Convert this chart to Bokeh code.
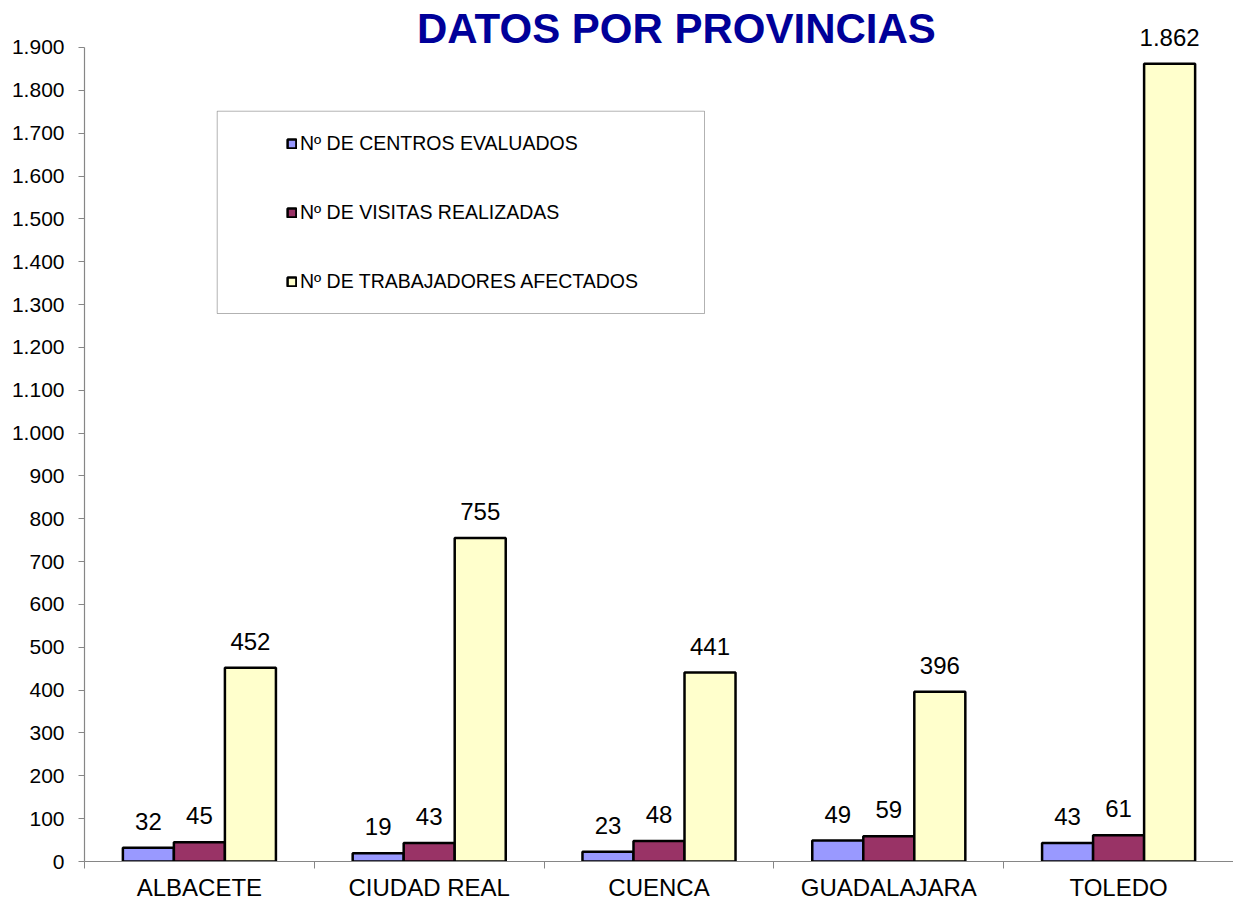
import numpy as np
from bokeh.plotting import figure
from bokeh.core.properties import value
from bokeh.models import (ColumnDataSource, Range1d, FixedTicker, LabelSet, Label,
                          BoxAnnotation, Legend, LegendItem)
from bokeh.embed import file_html
from bokeh.resources import INLINE

# ---- data ----
provincias = ["ALBACETE", "CIUDAD REAL", "CUENCA", "GUADALAJARA", "TOLEDO"]
centros = [32, 19, 23, 49, 43]
visitas = [45, 43, 48, 59, 61]
trabajadores = [452, 755, 441, 396, 1862]
series_names = ["Nº DE CENTROS EVALUADOS", "Nº DE VISITAS REALIZADAS", "Nº DE TRABAJADORES AFECTADOS"]
series_colors = ["#9999FF", "#993366", "#FFFFCC"]
y_ticks = [0, 100, 200, 300, 400, 500, 600, 700, 800, 900, 1000,
           1100, 1200, 1300, 1400, 1500, 1600, 1700, 1800, 1900]
y_tick_labels = ["0", "100", "200", "300", "400", "500", "600", "700", "800", "900", "1.000",
                 "1.100", "1.200", "1.300", "1.400", "1.500", "1.600", "1.700", "1.800", "1.900"]

FONT = "Liberation Sans"
AXIS_GRAY = "#868686"
BAR_W = 0.222

p = figure(width=1233, height=903, x_range=Range1d(0, 5), y_range=Range1d(0, 2009.7),
           output_backend="svg", toolbar_location=None,
           min_border_left=84, min_border_right=0, min_border_top=0, min_border_bottom=42)
p.xgrid.grid_line_color = None
p.ygrid.grid_line_color = None
p.outline_line_color = None
p.background_fill_color = "white"
p.border_fill_color = "white"

centers = np.arange(len(provincias)) + 0.5
series = [centros, visitas, trabajadores]
offsets = [-BAR_W, 0.0, BAR_W]

renderers = []
for vals, off, col in zip(series, offsets, series_colors):
    src = ColumnDataSource(dict(
        x=centers + off,
        top=vals,
        lbl=[f"{v:,}".replace(",", ".") for v in vals],
    ))
    r = p.vbar(x="x", top="top", width=BAR_W, bottom=0, source=src,
               fill_color=col, line_color="black", line_width=2.5)
    renderers.append(r)
    p.add_layout(LabelSet(x="x", y="top", text="lbl", source=src, y_offset=18,
                          text_align="center", text_baseline="alphabetic",
                          text_font=value(FONT), text_font_size="24px", text_color="black"))

# x axis
xa = p.xaxis[0]
xa.ticker = FixedTicker(ticks=list(centers), minor_ticks=list(range(len(provincias) + 1)))
xa.major_label_overrides = {float(c): name for c, name in zip(centers, provincias)}
xa.axis_line_color = AXIS_GRAY
xa.axis_line_width = 1.2
xa.major_tick_line_color = None
xa.major_tick_out = 0
xa.major_tick_in = 0
xa.minor_tick_line_color = AXIS_GRAY
xa.minor_tick_out = 7
xa.minor_tick_in = 0
xa.major_label_standoff = 5
xa.major_label_text_font = FONT
xa.major_label_text_font_size = "24px"
xa.major_label_text_color = "black"

# y axis
ya = p.yaxis[0]
ya.bounds = (0, 1900)
ya.ticker = FixedTicker(ticks=y_ticks)
ya.major_label_overrides = {t: s for t, s in zip(y_ticks, y_tick_labels)}
ya.axis_line_color = AXIS_GRAY
ya.axis_line_width = 1.2
ya.major_tick_line_color = AXIS_GRAY
ya.major_tick_out = 6
ya.major_tick_in = 0
ya.minor_tick_line_color = None
ya.major_label_standoff = 14
ya.major_label_text_font = FONT
ya.major_label_text_font_size = "21px"
ya.major_label_text_color = "black"

# legend frame
box = BoxAnnotation(left=0.5775, right=2.698, bottom=1279.1, top=1751.3,
                    fill_color="white", fill_alpha=1.0, line_color="black", line_width=1)
p.add_layout(box)

legend = Legend(items=[LegendItem(label=n, renderers=[r]) for n, r in zip(series_names, renderers)],
                location=(202, 568), padding=0, margin=0, spacing=46,
                glyph_width=11, glyph_height=11, label_standoff=3, label_height=22,
                label_text_font=FONT, label_text_font_size="19.5px", label_text_color="black",
                border_line_alpha=0, background_fill_alpha=0)
p.add_layout(legend)

# title
p.add_layout(Label(x=2.576, y=1944, text="DATOS POR PROVINCIAS", text_align="center",
                   text_baseline="alphabetic", text_font=FONT, text_font_style="bold",
                   text_font_size="42px", text_color="#000099"))

open("out.html", "w").write(file_html(p, INLINE))
